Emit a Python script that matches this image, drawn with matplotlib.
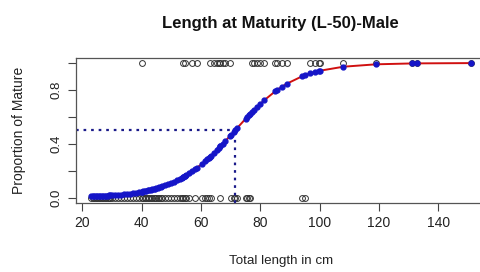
import numpy as np
import matplotlib
matplotlib.use("Agg")
import matplotlib.pyplot as plt

# lengths (cm) of immature (0) and mature (1) males
immature = [23, 23.5, 24, 24.5, 25, 25.5, 26, 26.5, 27, 27.5, 28, 28.5, 29, 29.5,
            30, 31, 32, 33, 34, 35, 36, 37, 38, 39, 40, 40.5, 41, 41.5, 42, 42.5,
            43, 43.5, 44, 44.5, 45, 45.5, 46, 46.5, 47, 48, 49, 50, 51, 52, 53,
            53.5, 54, 54.5, 55, 56, 58.1, 60.4, 61.5, 62.1, 62.6, 63.2, 66.5,
            70.1, 71.0, 71.6, 72.1, 75.0, 75.5, 76.1, 76.6, 94.0, 95.1]
mature = [40.0, 54.0, 54.5, 57.0, 58.7, 63.0, 64.3, 65.4, 66.0, 66.5, 67.4, 68.2,
          69.7, 77.2, 77.8, 78.9, 80.0, 81.3, 85.0, 85.6, 87.3, 89.0, 96.8, 98.5,
          99.6, 100.2, 108.0, 119.0, 131.2, 132.7, 150.9]

# fitted logistic model
L50 = 71.5
slope = 0.098

length = np.array(immature + mature)
status = np.array([0] * len(immature) + [1] * len(mature))
order = np.argsort(length)
x_sorted = length[order]
fitted = 1 / (1 + np.exp(-slope * (x_sorted - L50)))

fam = ["Liberation Sans", "DejaVu Sans"]
plt.rcParams["font.family"] = fam
txt = "#222222"
fig = plt.figure(figsize=(4.81, 2.72), dpi=100)
ax = fig.add_axes([0.158, 0.254, 0.853, 0.534])

ax.plot(length, status, "o", mfc="none", mec="#333333", ms=4.2, mew=0.7)
ax.plot(x_sorted, fitted, color="#d01010", lw=1.4, zorder=3)
ax.plot(x_sorted, fitted, "o", color="#1515c8", ms=3.5, zorder=4)

xlim = (17.88, 156.12)
ylim = (-0.04, 1.04)
ax.plot([xlim[0], L50], [0.5, 0.5], ls=(0, (1.2, 2.2)), color="#1a1a8a", lw=1.6)
ax.plot([L50, L50], [ylim[0], 0.5], ls=(0, (1.2, 2.2)), color="#1a1a8a", lw=1.6)
ax.set_xlim(*xlim)
ax.set_ylim(*ylim)

ax.set_xticks([20, 40, 60, 80, 100, 120, 140])
ax.set_yticks([0, 0.2, 0.4, 0.6, 0.8, 1.0])
ax.set_yticklabels(["0.0", "", "0.4", "", "0.8", ""], rotation=90, va="center")
ax.tick_params(colors="#444444", labelcolor=txt, labelsize=10, length=6, width=0.8)
ax.tick_params(axis="y", labelsize=9.5)
for s in ax.spines.values():
    s.set_color("#555555")
    s.set_linewidth(0.9)

ax.set_xlabel("Total length in cm", fontsize=9.6, color=txt, labelpad=18)
ax.set_ylabel("Proportion of Mature", fontsize=10, color=txt, labelpad=18)
fig.text(0.582, 0.912, "Length at Maturity (L-50)-Male", ha="center", va="center",
         fontsize=12, fontweight="bold", color="#111111")

fig.savefig("out.png", dpi=100)
